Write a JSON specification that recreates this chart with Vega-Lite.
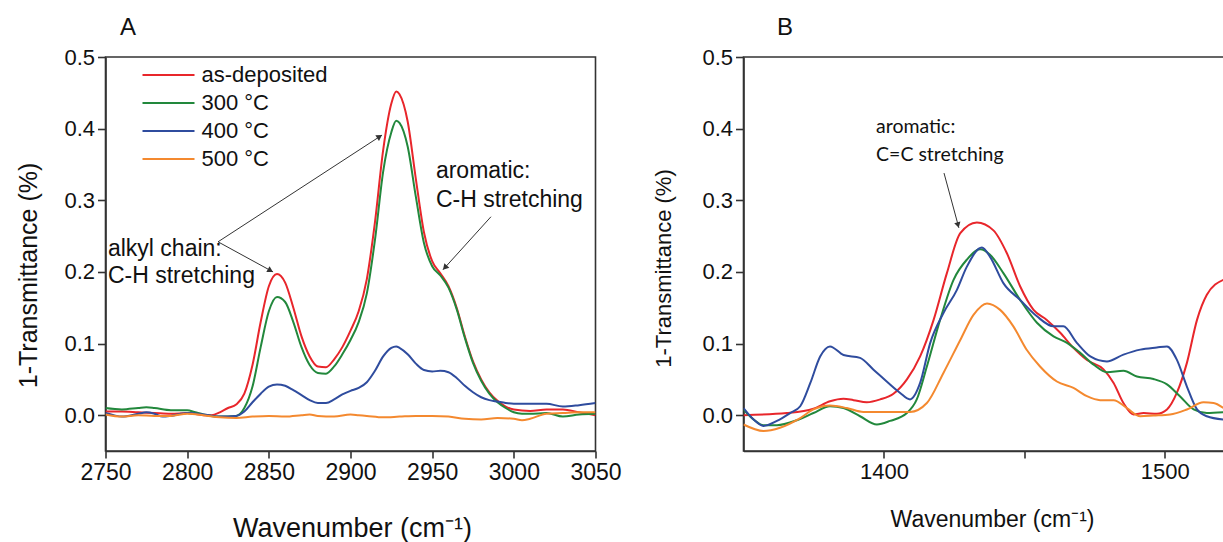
{
  "$schema": "https://vega.github.io/schema/vega-lite/v6.json",
  "autosize": {"type": "none"},
  "padding": {"left": 105.5, "top": 57, "right": 1117.5, "bottom": 485},
  "bounds": "flush",
  "spacing": 148,
  "background": "white",
  "config": {
    "font": "Liberation Sans",
    "view": {"stroke": "#333", "strokeWidth": 1.6},
    "axis": {"domainColor": "#333", "domainWidth": 1.6, "tickColor": "#333", "tickWidth": 1.6, "labelColor": "#111", "titleColor": "#111", "titleFontWeight": "normal", "labelFont": "Liberation Sans", "titleFont": "Liberation Sans", "grid": false}
  },
  "datasets": {
    "A": [
      {"s":"as-deposited","w":2750,"v":0.005},{"s":"as-deposited","w":2760,"v":0.005},{"s":"as-deposited","w":2770,"v":0.004},{"s":"as-deposited","w":2780,"v":0.003},{"s":"as-deposited","w":2790,"v":0.002},{"s":"as-deposited","w":2800,"v":0.003},{"s":"as-deposited","w":2810,"v":0.0},{"s":"as-deposited","w":2815,"v":0.0},{"s":"as-deposited","w":2820,"v":0.004},{"s":"as-deposited","w":2825,"v":0.010},{"s":"as-deposited","w":2830,"v":0.015},{"s":"as-deposited","w":2835,"v":0.030},{"s":"as-deposited","w":2840,"v":0.070},{"s":"as-deposited","w":2845,"v":0.130},{"s":"as-deposited","w":2850,"v":0.180},{"s":"as-deposited","w":2855,"v":0.197},{"s":"as-deposited","w":2860,"v":0.185},{"s":"as-deposited","w":2865,"v":0.150},{"s":"as-deposited","w":2870,"v":0.110},{"s":"as-deposited","w":2875,"v":0.082},{"s":"as-deposited","w":2880,"v":0.068},{"s":"as-deposited","w":2885,"v":0.067},{"s":"as-deposited","w":2890,"v":0.078},{"s":"as-deposited","w":2895,"v":0.095},{"s":"as-deposited","w":2900,"v":0.118},{"s":"as-deposited","w":2905,"v":0.145},{"s":"as-deposited","w":2910,"v":0.190},{"s":"as-deposited","w":2915,"v":0.270},{"s":"as-deposited","w":2920,"v":0.370},{"s":"as-deposited","w":2925,"v":0.435},{"s":"as-deposited","w":2928,"v":0.452},{"s":"as-deposited","w":2930,"v":0.448},{"s":"as-deposited","w":2935,"v":0.410},{"s":"as-deposited","w":2940,"v":0.330},{"s":"as-deposited","w":2945,"v":0.255},{"s":"as-deposited","w":2950,"v":0.215},{"s":"as-deposited","w":2955,"v":0.198},{"s":"as-deposited","w":2960,"v":0.180},{"s":"as-deposited","w":2965,"v":0.150},{"s":"as-deposited","w":2970,"v":0.110},{"s":"as-deposited","w":2975,"v":0.075},{"s":"as-deposited","w":2980,"v":0.050},{"s":"as-deposited","w":2985,"v":0.032},{"s":"as-deposited","w":2990,"v":0.020},{"s":"as-deposited","w":2995,"v":0.012},{"s":"as-deposited","w":3000,"v":0.008},{"s":"as-deposited","w":3010,"v":0.006},{"s":"as-deposited","w":3020,"v":0.008},{"s":"as-deposited","w":3030,"v":0.008},{"s":"as-deposited","w":3040,"v":0.004},{"s":"as-deposited","w":3050,"v":0.0},
      {"s":"300 °C","w":2750,"v":0.010},{"s":"300 °C","w":2760,"v":0.008},{"s":"300 °C","w":2770,"v":0.010},{"s":"300 °C","w":2775,"v":0.011},{"s":"300 °C","w":2780,"v":0.010},{"s":"300 °C","w":2790,"v":0.007},{"s":"300 °C","w":2800,"v":0.007},{"s":"300 °C","w":2805,"v":0.004},{"s":"300 °C","w":2810,"v":0.001},{"s":"300 °C","w":2820,"v":-0.002},{"s":"300 °C","w":2830,"v":-0.001},{"s":"300 °C","w":2835,"v":0.010},{"s":"300 °C","w":2840,"v":0.040},{"s":"300 °C","w":2845,"v":0.095},{"s":"300 °C","w":2850,"v":0.145},{"s":"300 °C","w":2855,"v":0.165},{"s":"300 °C","w":2860,"v":0.158},{"s":"300 °C","w":2865,"v":0.130},{"s":"300 °C","w":2870,"v":0.095},{"s":"300 °C","w":2875,"v":0.070},{"s":"300 °C","w":2880,"v":0.059},{"s":"300 °C","w":2885,"v":0.058},{"s":"300 °C","w":2890,"v":0.068},{"s":"300 °C","w":2895,"v":0.085},{"s":"300 °C","w":2900,"v":0.105},{"s":"300 °C","w":2905,"v":0.130},{"s":"300 °C","w":2910,"v":0.170},{"s":"300 °C","w":2915,"v":0.245},{"s":"300 °C","w":2920,"v":0.340},{"s":"300 °C","w":2925,"v":0.395},{"s":"300 °C","w":2928,"v":0.411},{"s":"300 °C","w":2930,"v":0.408},{"s":"300 °C","w":2935,"v":0.375},{"s":"300 °C","w":2940,"v":0.305},{"s":"300 °C","w":2945,"v":0.240},{"s":"300 °C","w":2950,"v":0.208},{"s":"300 °C","w":2955,"v":0.195},{"s":"300 °C","w":2960,"v":0.178},{"s":"300 °C","w":2965,"v":0.148},{"s":"300 °C","w":2970,"v":0.108},{"s":"300 °C","w":2975,"v":0.073},{"s":"300 °C","w":2980,"v":0.048},{"s":"300 °C","w":2985,"v":0.030},{"s":"300 °C","w":2990,"v":0.018},{"s":"300 °C","w":2995,"v":0.010},{"s":"300 °C","w":3000,"v":0.004},{"s":"300 °C","w":3005,"v":0.002},{"s":"300 °C","w":3010,"v":0.002},{"s":"300 °C","w":3020,"v":0.003},{"s":"300 °C","w":3030,"v":-0.002},{"s":"300 °C","w":3040,"v":0.001},{"s":"300 °C","w":3050,"v":0.002},
      {"s":"400 °C","w":2750,"v":0.003},{"s":"400 °C","w":2755,"v":0.0},{"s":"400 °C","w":2760,"v":-0.002},{"s":"400 °C","w":2770,"v":0.002},{"s":"400 °C","w":2775,"v":0.004},{"s":"400 °C","w":2780,"v":0.002},{"s":"400 °C","w":2785,"v":-0.002},{"s":"400 °C","w":2790,"v":-0.001},{"s":"400 °C","w":2800,"v":0.003},{"s":"400 °C","w":2810,"v":0.001},{"s":"400 °C","w":2820,"v":-0.002},{"s":"400 °C","w":2830,"v":-0.001},{"s":"400 °C","w":2835,"v":0.005},{"s":"400 °C","w":2840,"v":0.018},{"s":"400 °C","w":2845,"v":0.030},{"s":"400 °C","w":2850,"v":0.040},{"s":"400 °C","w":2855,"v":0.043},{"s":"400 °C","w":2860,"v":0.041},{"s":"400 °C","w":2865,"v":0.035},{"s":"400 °C","w":2870,"v":0.028},{"s":"400 °C","w":2875,"v":0.021},{"s":"400 °C","w":2880,"v":0.017},{"s":"400 °C","w":2885,"v":0.017},{"s":"400 °C","w":2890,"v":0.022},{"s":"400 °C","w":2895,"v":0.029},{"s":"400 °C","w":2900,"v":0.034},{"s":"400 °C","w":2905,"v":0.038},{"s":"400 °C","w":2910,"v":0.046},{"s":"400 °C","w":2915,"v":0.062},{"s":"400 °C","w":2920,"v":0.082},{"s":"400 °C","w":2925,"v":0.094},{"s":"400 °C","w":2928,"v":0.096},{"s":"400 °C","w":2930,"v":0.094},{"s":"400 °C","w":2935,"v":0.085},{"s":"400 °C","w":2940,"v":0.072},{"s":"400 °C","w":2945,"v":0.063},{"s":"400 °C","w":2950,"v":0.061},{"s":"400 °C","w":2955,"v":0.062},{"s":"400 °C","w":2960,"v":0.060},{"s":"400 °C","w":2965,"v":0.052},{"s":"400 °C","w":2970,"v":0.041},{"s":"400 °C","w":2975,"v":0.032},{"s":"400 °C","w":2980,"v":0.025},{"s":"400 °C","w":2985,"v":0.021},{"s":"400 °C","w":2990,"v":0.019},{"s":"400 °C","w":2995,"v":0.017},{"s":"400 °C","w":3000,"v":0.016},{"s":"400 °C","w":3010,"v":0.016},{"s":"400 °C","w":3020,"v":0.016},{"s":"400 °C","w":3030,"v":0.012},{"s":"400 °C","w":3040,"v":0.014},{"s":"400 °C","w":3050,"v":0.017},
      {"s":"500 °C","w":2750,"v":0.001},{"s":"500 °C","w":2760,"v":-0.002},{"s":"500 °C","w":2770,"v":0.0},{"s":"500 °C","w":2780,"v":-0.001},{"s":"500 °C","w":2790,"v":-0.001},{"s":"500 °C","w":2800,"v":0.002},{"s":"500 °C","w":2810,"v":0.0},{"s":"500 °C","w":2820,"v":-0.003},{"s":"500 °C","w":2830,"v":-0.004},{"s":"500 °C","w":2840,"v":-0.002},{"s":"500 °C","w":2850,"v":-0.001},{"s":"500 °C","w":2860,"v":-0.002},{"s":"500 °C","w":2870,"v":0.0},{"s":"500 °C","w":2875,"v":0.001},{"s":"500 °C","w":2880,"v":-0.001},{"s":"500 °C","w":2890,"v":-0.002},{"s":"500 °C","w":2900,"v":0.001},{"s":"500 °C","w":2905,"v":0.0},{"s":"500 °C","w":2910,"v":-0.001},{"s":"500 °C","w":2920,"v":-0.003},{"s":"500 °C","w":2930,"v":-0.002},{"s":"500 °C","w":2940,"v":-0.001},{"s":"500 °C","w":2950,"v":-0.001},{"s":"500 °C","w":2960,"v":-0.002},{"s":"500 °C","w":2970,"v":-0.005},{"s":"500 °C","w":2980,"v":-0.006},{"s":"500 °C","w":2990,"v":-0.004},{"s":"500 °C","w":3000,"v":-0.005},{"s":"500 °C","w":3005,"v":-0.007},{"s":"500 °C","w":3010,"v":-0.005},{"s":"500 °C","w":3020,"v":0.002},{"s":"500 °C","w":3030,"v":0.003},{"s":"500 °C","w":3040,"v":0.004},{"s":"500 °C","w":3050,"v":0.004}
    ],
    "B": [
      {"s":"as-deposited","w":1350,"v":0.0},{"s":"as-deposited","w":1365.4,"v":0.003},{"s":"as-deposited","w":1374.9,"v":0.009},{"s":"as-deposited","w":1380.8,"v":0.0195},{"s":"as-deposited","w":1385.6,"v":0.023},{"s":"as-deposited","w":1389.2,"v":0.021},{"s":"as-deposited","w":1393.9,"v":0.018},{"s":"as-deposited","w":1398.7,"v":0.022},{"s":"as-deposited","w":1403.4,"v":0.030},{"s":"as-deposited","w":1408.2,"v":0.050},{"s":"as-deposited","w":1412.9,"v":0.082},{"s":"as-deposited","w":1417.7,"v":0.133},{"s":"as-deposited","w":1422.4,"v":0.198},{"s":"as-deposited","w":1427.2,"v":0.254},{"s":"as-deposited","w":1433.1,"v":0.269},{"s":"as-deposited","w":1439.0,"v":0.258},{"s":"as-deposited","w":1443.8,"v":0.226},{"s":"as-deposited","w":1448.5,"v":0.180},{"s":"as-deposited","w":1453.3,"v":0.147},{"s":"as-deposited","w":1458.0,"v":0.133},{"s":"as-deposited","w":1462.8,"v":0.115},{"s":"as-deposited","w":1467.5,"v":0.094},{"s":"as-deposited","w":1472.3,"v":0.077},{"s":"as-deposited","w":1478.2,"v":0.064},{"s":"as-deposited","w":1481.8,"v":0.045},{"s":"as-deposited","w":1485.3,"v":0.017},{"s":"as-deposited","w":1488.9,"v":0.001},{"s":"as-deposited","w":1492.5,"v":0.003},{"s":"as-deposited","w":1497.2,"v":0.002},{"s":"as-deposited","w":1500.8,"v":0.008},{"s":"as-deposited","w":1504.3,"v":0.031},{"s":"as-deposited","w":1507.9,"v":0.073},{"s":"as-deposited","w":1511.5,"v":0.133},{"s":"as-deposited","w":1515.0,"v":0.168},{"s":"as-deposited","w":1520.9,"v":0.189},
      {"s":"300 °C","w":1350,"v":0.008},{"s":"300 °C","w":1353.6,"v":-0.006},{"s":"300 °C","w":1357.1,"v":-0.014},{"s":"300 °C","w":1361.9,"v":-0.014},{"s":"300 °C","w":1369.0,"v":-0.007},{"s":"300 °C","w":1374.9,"v":0.003},{"s":"300 °C","w":1380.8,"v":0.0125},{"s":"300 °C","w":1385.6,"v":0.010},{"s":"300 °C","w":1391.5,"v":-0.0015},{"s":"300 °C","w":1397.5,"v":-0.013},{"s":"300 °C","w":1402.2,"v":-0.008},{"s":"300 °C","w":1408.2,"v":0.003},{"s":"300 °C","w":1411.7,"v":0.022},{"s":"300 °C","w":1415.3,"v":0.068},{"s":"300 °C","w":1420.0,"v":0.133},{"s":"300 °C","w":1424.8,"v":0.189},{"s":"300 °C","w":1429.5,"v":0.217},{"s":"300 °C","w":1434.3,"v":0.2315},{"s":"300 °C","w":1437.8,"v":0.224},{"s":"300 °C","w":1442.6,"v":0.198},{"s":"300 °C","w":1448.5,"v":0.161},{"s":"300 °C","w":1454.5,"v":0.129},{"s":"300 °C","w":1460.4,"v":0.110},{"s":"300 °C","w":1465.2,"v":0.101},{"s":"300 °C","w":1469.9,"v":0.087},{"s":"300 °C","w":1474.7,"v":0.0705},{"s":"300 °C","w":1479.4,"v":0.060},{"s":"300 °C","w":1485.3,"v":0.062},{"s":"300 °C","w":1490.1,"v":0.054},{"s":"300 °C","w":1496.0,"v":0.0505},{"s":"300 °C","w":1500.8,"v":0.043},{"s":"300 °C","w":1505.5,"v":0.026},{"s":"300 °C","w":1510.3,"v":0.008},{"s":"300 °C","w":1515.0,"v":0.003},{"s":"300 °C","w":1520.9,"v":0.004},
      {"s":"400 °C","w":1350,"v":0.010},{"s":"400 °C","w":1353.6,"v":-0.006},{"s":"400 °C","w":1357.1,"v":-0.015},{"s":"400 °C","w":1361.9,"v":-0.008},{"s":"400 °C","w":1366.6,"v":0.003},{"s":"400 °C","w":1370.2,"v":0.0125},{"s":"400 °C","w":1373.8,"v":0.045},{"s":"400 °C","w":1377.3,"v":0.082},{"s":"400 °C","w":1380.8,"v":0.096},{"s":"400 °C","w":1385.6,"v":0.084},{"s":"400 °C","w":1391.5,"v":0.080},{"s":"400 °C","w":1396.3,"v":0.0635},{"s":"400 °C","w":1401.0,"v":0.047},{"s":"400 °C","w":1405.8,"v":0.031},{"s":"400 °C","w":1409.3,"v":0.022},{"s":"400 °C","w":1412.9,"v":0.045},{"s":"400 °C","w":1416.5,"v":0.101},{"s":"400 °C","w":1421.2,"v":0.1425},{"s":"400 °C","w":1426.0,"v":0.175},{"s":"400 °C","w":1429.5,"v":0.207},{"s":"400 °C","w":1434.9,"v":0.234},{"s":"400 °C","w":1437.8,"v":0.221},{"s":"400 °C","w":1442.6,"v":0.184},{"s":"400 °C","w":1448.5,"v":0.161},{"s":"400 °C","w":1454.5,"v":0.138},{"s":"400 °C","w":1460.4,"v":0.124},{"s":"400 °C","w":1463.9,"v":0.124},{"s":"400 °C","w":1468.7,"v":0.101},{"s":"400 °C","w":1473.5,"v":0.082},{"s":"400 °C","w":1479.4,"v":0.075},{"s":"400 °C","w":1485.3,"v":0.0845},{"s":"400 °C","w":1491.3,"v":0.0915},{"s":"400 °C","w":1497.2,"v":0.0945},{"s":"400 °C","w":1500.8,"v":0.096},{"s":"400 °C","w":1504.3,"v":0.0775},{"s":"400 °C","w":1507.9,"v":0.040},{"s":"400 °C","w":1511.5,"v":0.008},{"s":"400 °C","w":1515.0,"v":-0.0015},{"s":"400 °C","w":1520.9,"v":-0.006},
      {"s":"500 °C","w":1350,"v":-0.013},{"s":"500 °C","w":1357.1,"v":-0.022},{"s":"500 °C","w":1363.0,"v":-0.0175},{"s":"500 °C","w":1370.2,"v":-0.004},{"s":"500 °C","w":1374.9,"v":0.008},{"s":"500 °C","w":1380.8,"v":0.0135},{"s":"500 °C","w":1386.8,"v":0.010},{"s":"500 °C","w":1392.7,"v":0.0045},{"s":"500 °C","w":1401.0,"v":0.0045},{"s":"500 °C","w":1409.3,"v":0.0045},{"s":"500 °C","w":1415.3,"v":0.017},{"s":"500 °C","w":1421.2,"v":0.059},{"s":"500 °C","w":1427.2,"v":0.105},{"s":"500 °C","w":1431.9,"v":0.140},{"s":"500 °C","w":1436.7,"v":0.156},{"s":"500 °C","w":1441.4,"v":0.147},{"s":"500 °C","w":1446.1,"v":0.124},{"s":"500 °C","w":1450.9,"v":0.091},{"s":"500 °C","w":1455.6,"v":0.068},{"s":"500 °C","w":1461.6,"v":0.047},{"s":"500 °C","w":1467.5,"v":0.038},{"s":"500 °C","w":1472.3,"v":0.0265},{"s":"500 °C","w":1477.0,"v":0.021},{"s":"500 °C","w":1481.8,"v":0.021},{"s":"500 °C","w":1486.5,"v":0.010},{"s":"500 °C","w":1491.3,"v":-0.0015},{"s":"500 °C","w":1496.0,"v":-0.0005},{"s":"500 °C","w":1501.9,"v":0.001},{"s":"500 °C","w":1507.9,"v":0.008},{"s":"500 °C","w":1513.8,"v":0.018},{"s":"500 °C","w":1517.4,"v":0.017},{"s":"500 °C","w":1520.9,"v":0.010}
    ],
    "arrowsA": [
      {"w":2818.9,"v":0.242,"w2":2919.3,"v2":0.391},
      {"w":2818.9,"v":0.242,"w2":2852.6,"v2":0.200},
      {"w":2986.0,"v":0.277,"w2":2956.6,"v2":0.203}
    ],
    "headsA": [
      {"id":"a1","w":2917.8,"v":0.389},
      {"id":"a2","w":2851.0,"v":0.202},
      {"id":"a3","w":2957.8,"v":0.206}
    ],
    "textA": [
      {"t":"alkyl chain:","w":2751.5,"v":0.2225},
      {"t":"C-H stretching","w":2751.5,"v":0.1848},
      {"t":"aromatic:","w":2952.3,"v":0.331},
      {"t":"C-H stretching","w":2952.3,"v":0.2908}
    ],
    "letterA": [{"t":"A","w":2763.8,"v":0.5307}],
    "arrowsB": [{"w":1421.4,"v":0.338,"w2":1426.7,"v2":0.2615}],
    "headsB": [{"id":"b1","w":1426.4,"v":0.2655}],
    "textB": [
      {"t":"aromatic:","w":1397.2,"v":0.394},
      {"t":"C=C stretching","w":1397.2,"v":0.355}
    ],
    "letterB": [{"t":"B","w":1364.8,"v":0.5307}]
  },
  "resolve": {"scale": {"color": "independent", "x": "independent", "y": "independent"}, "legend": {"color": "independent"}},
  "hconcat": [
    {
      "width": 490,
      "height": 394,
      "encoding": {
        "x": {"field": "w", "type": "quantitative", "scale": {"domain": [2750, 3050], "nice": false, "zero": false},
          "axis": {"values": [2750, 2800, 2850, 2900, 2950, 3000, 3050], "format": "d", "title": "Wavenumber (cm⁻¹)", "labelFontSize": 23, "titleFontSize": 27, "tickSize": 7, "labelPadding": 3, "titleX": 246.5, "titleY": 85, "titleBaseline": "alphabetic", "titleAlign": "center", "labelFlush": false}},
        "y": {"field": "v", "type": "quantitative", "scale": {"domain": [-0.05, 0.5], "nice": false, "zero": false},
          "axis": {"values": [0, 0.1, 0.2, 0.3, 0.4, 0.5], "format": ".1f", "title": "1-Transmittance (%)", "labelFontSize": 22, "titleFontSize": 25, "tickSize": 8, "labelPadding": 3, "titleX": -77.5, "titleY": 218, "titleBaseline": "middle", "titleAlign": "center", "titleAngle": -90}}
      },
      "layer": [
        {
          "data": {"name": "A"},
          "mark": {"type": "line", "strokeWidth": 2, "interpolate": "monotone", "clip": true},
          "encoding": {
            "color": {"field": "s", "type": "nominal", "sort": ["as-deposited", "300 °C", "400 °C", "500 °C"],
              "scale": {"domain": ["as-deposited", "300 °C", "400 °C", "500 °C"], "range": ["#e8262b", "#22883c", "#2f4c9e", "#f4892f"]},
              "legend": {"orient": "none", "legendX": 52, "legendY": 7, "title": null, "symbolType": "M-4,0H4", "symbolSize": 169, "symbolStrokeWidth": 2, "symbolFillColor": "transparent", "labelFontSize": 22, "labelFont": "Liberation Sans", "labelColor": "#111", "labelOffset": 22, "padding": 0, "rowPadding": 6}}
          }
        },
        {
          "data": {"name": "arrowsA"},
          "mark": {"type": "rule", "color": "#333", "strokeWidth": 1},
          "encoding": {"x2": {"field": "w2"}, "y2": {"field": "v2"}}
        },
        {
          "data": {"name": "headsA"},
          "transform": [{"filter": "datum.id === 'a1'"}],
          "mark": {"type": "point", "shape": "triangle-up", "filled": true, "color": "#333", "opacity": 1, "size": 45, "angle": 57}
        },
        {
          "data": {"name": "headsA"},
          "transform": [{"filter": "datum.id === 'a2'"}],
          "mark": {"type": "point", "shape": "triangle-up", "filled": true, "color": "#333", "opacity": 1, "size": 45, "angle": 119}
        },
        {
          "data": {"name": "headsA"},
          "transform": [{"filter": "datum.id === 'a3'"}],
          "mark": {"type": "point", "shape": "triangle-up", "filled": true, "color": "#333", "opacity": 1, "size": 45, "angle": 222}
        },
        {
          "data": {"name": "textA"},
          "mark": {"type": "text", "align": "left", "baseline": "alphabetic", "fontSize": 23, "font": "Liberation Sans", "color": "#111"},
          "encoding": {"text": {"field": "t"}}
        },
        {
          "data": {"name": "letterA"},
          "mark": {"type": "text", "align": "center", "baseline": "alphabetic", "fontSize": 24, "font": "Liberation Sans", "color": "#111"},
          "encoding": {"text": {"field": "t"}}
        }
      ]
    },
    {
      "width": 483,
      "height": 394,
      "encoding": {
        "x": {"field": "w", "type": "quantitative", "scale": {"domain": [1350, 1522], "nice": false, "zero": false},
          "axis": {"values": [1400, 1450, 1500], "format": "d", "labelExpr": "datum.value == 1450 ? '' : datum.label", "title": "Wavenumber (cm⁻¹)", "labelFontSize": 22, "titleFontSize": 23, "tickSize": 7, "labelPadding": 3, "titleX": 248.5, "titleY": 75, "titleBaseline": "alphabetic", "titleAlign": "center"}},
        "y": {"field": "v", "type": "quantitative", "scale": {"domain": [-0.05, 0.5], "nice": false, "zero": false},
          "axis": {"values": [0, 0.1, 0.2, 0.3, 0.4, 0.5], "format": ".1f", "title": "1-Transmittance (%)", "labelFontSize": 22, "titleFontSize": 22, "tickSize": 8, "labelPadding": 3, "titleX": -80.5, "titleY": 211, "titleBaseline": "middle", "titleAlign": "center", "titleAngle": -90}}
      },
      "layer": [
        {
          "data": {"name": "B"},
          "mark": {"type": "line", "strokeWidth": 2, "interpolate": "monotone", "clip": true},
          "encoding": {
            "color": {"field": "s", "type": "nominal",
              "scale": {"domain": ["as-deposited", "300 °C", "400 °C", "500 °C"], "range": ["#e8262b", "#22883c", "#2f4c9e", "#f4892f"]},
              "legend": null}
          }
        },
        {
          "data": {"name": "arrowsB"},
          "mark": {"type": "rule", "color": "#333", "strokeWidth": 1},
          "encoding": {"x2": {"field": "w2"}, "y2": {"field": "v2"}}
        },
        {
          "data": {"name": "headsB"},
          "mark": {"type": "point", "shape": "triangle-up", "filled": true, "color": "#333", "opacity": 1, "size": 40, "angle": 165}
        },
        {
          "data": {"name": "textB"},
          "mark": {"type": "text", "align": "left", "baseline": "alphabetic", "fontSize": 19.5, "font": "Lato", "color": "#111"},
          "encoding": {"text": {"field": "t"}}
        },
        {
          "data": {"name": "letterB"},
          "mark": {"type": "text", "align": "center", "baseline": "alphabetic", "fontSize": 24, "font": "Liberation Sans", "color": "#111"},
          "encoding": {"text": {"field": "t"}}
        }
      ]
    }
  ]
}
